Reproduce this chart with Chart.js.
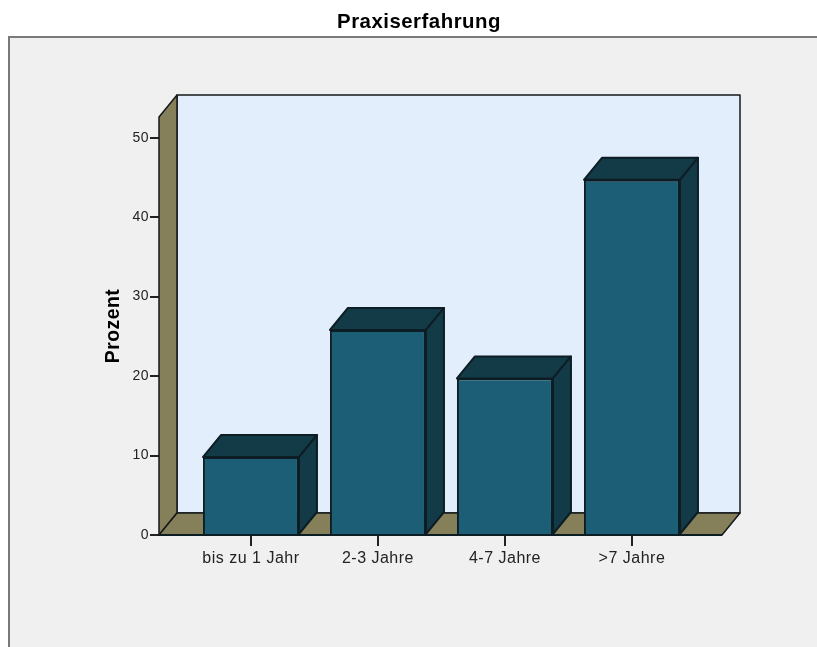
<!DOCTYPE html>
<html>
<head>
<meta charset="utf-8">
<title>Praxiserfahrung</title>
<script src="https://cdn.jsdelivr.net/npm/chart.js@4"></script>
<style>
  html, body { margin: 0; padding: 0; background: #fff; overflow: hidden; }
  canvas { display: block; }
</style>
</head>
<body>
<canvas id="chart" width="817" height="647"></canvas>
<script>
const categories = ['bis zu 1 Jahr', '2-3 Jahre', '4-7 Jahre', '>7 Jahre'];
const percent = [9.8, 25.8, 19.7, 44.7];
const chartTitle = 'Praxiserfahrung';
const yLabel = 'Prozent';

// how far the back plane sits from the front plane
const depthX = 18;
const depthY = -22;

const ink = '#0d1d24';

function poly(ctx, pts, fill, stroke, width) {
    ctx.beginPath();
    pts.forEach((p, i) => i ? ctx.lineTo(p[0], p[1]) : ctx.moveTo(p[0], p[1]));
    ctx.closePath();
    ctx.fillStyle = fill;
    ctx.fill();
    ctx.lineJoin = 'round';
    ctx.lineWidth = width;
    ctx.strokeStyle = stroke;
    ctx.stroke();
}

// grey panel behind the chart, open to the right and bottom
const framePlugin = {
    id: 'frame',
    beforeDraw(chart) {
        const ctx = chart.ctx;
        ctx.save();
        ctx.fillStyle = '#f0f0f0';
        ctx.fillRect(9, 37, chart.width, chart.height);
        ctx.strokeStyle = '#7a7a7a';
        ctx.lineWidth = 2;
        ctx.beginPath();
        ctx.moveTo(9, chart.height);
        ctx.lineTo(9, 37);
        ctx.lineTo(chart.width, 37);
        ctx.stroke();
        ctx.restore();
        // the original text is set a little wide
        ctx.letterSpacing = '0.5px';
    }
};

// back wall, side wall, floor and the depth faces of the bars
const depthPlugin = {
    id: 'depth',
    beforeDatasetsDraw(chart) {
        const ctx = chart.ctx;
        const { left, right, top, bottom } = chart.chartArea;
        ctx.save();
        poly(ctx, [[left + depthX, top + depthY], [right + depthX, top + depthY], [right + depthX, bottom + depthY], [left + depthX, bottom + depthY]], '#e2eefb', '#14181a', 1.5);
        poly(ctx, [[left, top], [left + depthX, top + depthY], [left + depthX, bottom + depthY], [left, bottom]], '#85805a', '#14181a', 1.5);
        poly(ctx, [[left, bottom], [left + depthX, bottom + depthY], [right + depthX, bottom + depthY], [right, bottom]], '#85805a', '#14181a', 1.5);
        chart.getDatasetMeta(0).data.forEach((bar) => {
            const x0 = bar.x - bar.width / 2;
            const x1 = bar.x + bar.width / 2;
            poly(ctx, [[x0, bar.y], [x0 + depthX, bar.y + depthY], [x1 + depthX, bar.y + depthY], [x1, bar.y]], '#133a47', ink, 2);
            poly(ctx, [[x1, bar.y], [x1 + depthX, bar.y + depthY], [x1 + depthX, bar.base + depthY], [x1, bar.base]], '#133a47', ink, 2);
        });
        ctx.restore();
    },
    afterDatasetsDraw(chart) {
        const ctx = chart.ctx;
        const { left, right, bottom } = chart.chartArea;
        ctx.save();
        ctx.strokeStyle = ink;
        ctx.lineWidth = 2;
        ctx.beginPath();
        ctx.moveTo(left, bottom);
        ctx.lineTo(right, bottom);
        ctx.stroke();
        ctx.restore();
    }
};

new Chart(document.getElementById('chart'), {
    type: 'bar',
    data: {
        datasets: [{
            data: percent.map((v, i) => ({ x: i, y: v })),
            yAxisID: 'y',
            backgroundColor: '#1b5e75',
            borderColor: ink,
            borderWidth: 2,
            barPercentage: 0.756,
            categoryPercentage: 1
        }]
    },
    plugins: [framePlugin, depthPlugin],
    options: {
        responsive: false,
        animation: false,
        layout: { padding: { left: 21, right: 0, top: 0, bottom: 0 } },
        plugins: {
            legend: { display: false },
            tooltip: { enabled: false },
            title: {
                display: true,
                text: chartTitle,
                color: '#000',
                font: { family: 'Liberation Sans', size: 20.4, weight: 'bold' },
                padding: { top: 10, bottom: 82.5 }
            }
        },
        scales: {
            x: {
                type: 'linear',
                offset: false,
                min: -0.724,
                max: 3.709,
                afterBuildTicks(axis) {
                    axis.ticks = categories.map((_, i) => ({ value: i }));
                },
                afterFit(axis) { axis.height = 112; },
                grid: { offset: false, drawOnChartArea: false, tickLength: 11, color: '#222', lineWidth: 2 },
                border: { display: false },
                ticks: {
                    autoSkip: false,
                    maxRotation: 0,
                    padding: 3,
                    color: '#222',
                    font: { family: 'Liberation Sans', size: 16 },
                    callback: (v) => categories[v]
                }
            },
            y: {
                min: 0,
                max: 52.6,
                // the wall runs past 50 but carries no label up there
                afterBuildTicks(axis) {
                    axis.ticks = axis.ticks.filter((t) => t.value % 10 === 0);
                },
                afterFit(axis) { axis.width = 138; },
                grid: { drawOnChartArea: false, tickLength: 9, color: '#222', lineWidth: 2 },
                border: { display: false },
                title: {
                    display: true,
                    text: yLabel,
                    color: '#000',
                    font: { family: 'Liberation Sans', size: 19.4, weight: 'bold' },
                    padding: { top: 81, bottom: 0 }
                },
                ticks: {
                    stepSize: 10,
                    padding: 1,
                    color: '#222',
                    font: { family: 'Liberation Sans', size: 14 }
                }
            },
            // empty axis that only reserves the margin to the right of the floor
            margin: {
                position: 'right',
                afterFit(axis) { axis.width = 95; },
                grid: { display: false },
                border: { display: false },
                ticks: { display: false }
            }
        }
    }
});
</script>
</body>
</html>
